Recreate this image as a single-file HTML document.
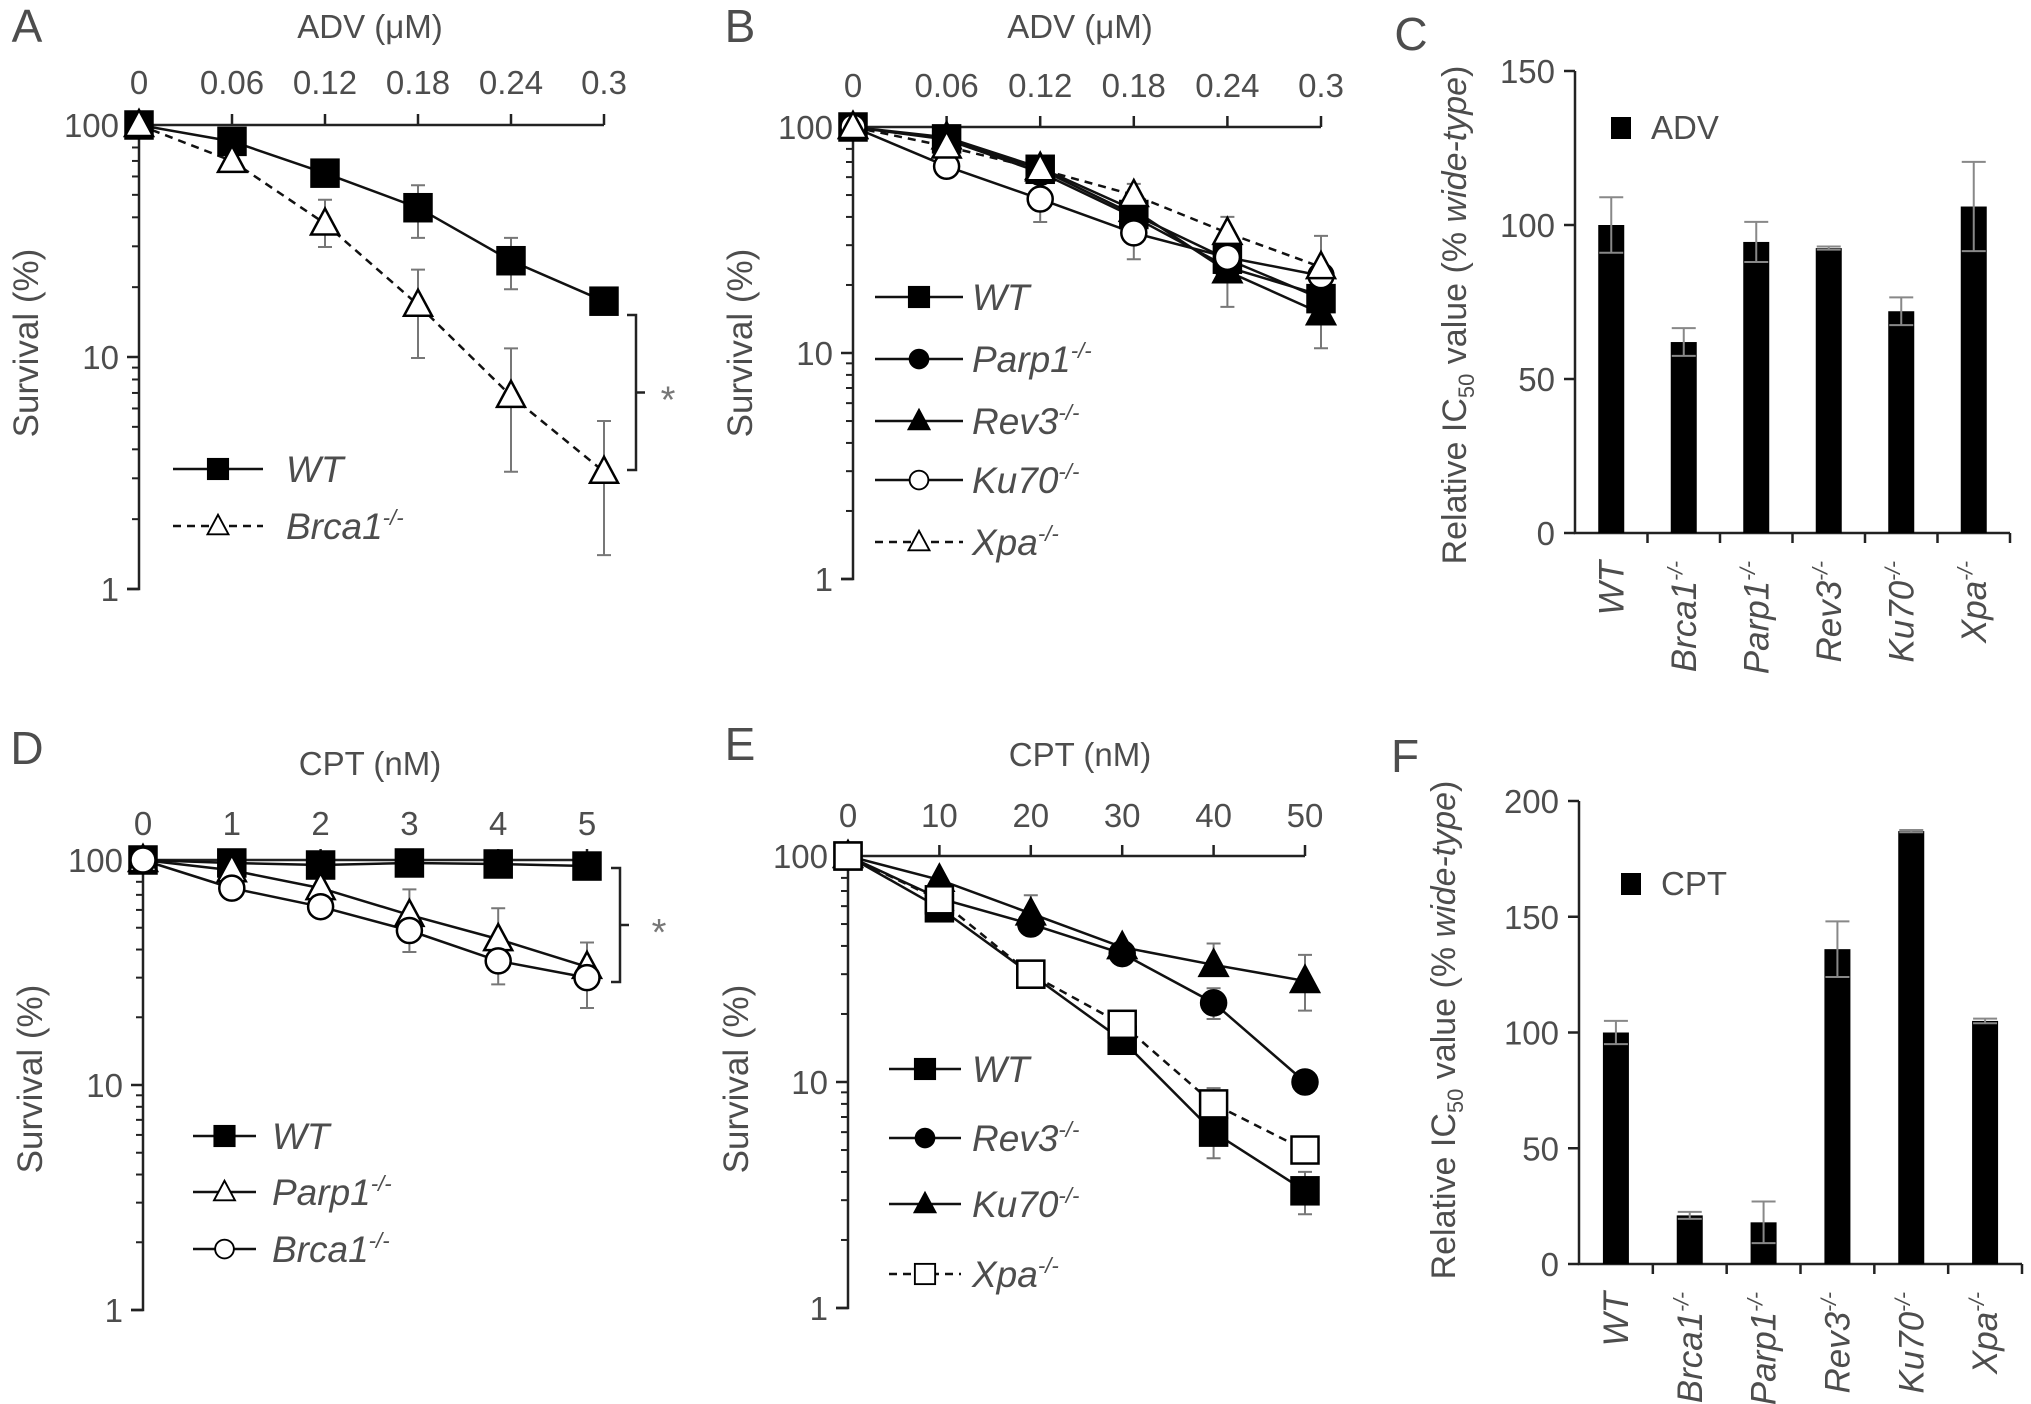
<!DOCTYPE html>
<html><head><meta charset="utf-8"><style>
html,body{margin:0;padding:0;background:#fff;}
svg{display:block;font-family:"Liberation Sans",Arial,sans-serif;}
</style></head><body>
<svg id="fig" width="2031" height="1404" viewBox="0 0 2031 1404" xmlns="http://www.w3.org/2000/svg"></svg>
<script>
// ---------- DATA ----------
const A_x=[0,0.06,0.12,0.18,0.24,0.3];
const A_ticks=["0","0.06","0.12","0.18","0.24","0.3"];
const A_wt=[100,85,62,44,26,17.4];
const A_wt_hi=[null,null,67,55,32.6,null];
const A_wt_lo=[null,null,56,32.6,19.6,null];
const A_brca1=[100,70,37.6,16.8,6.8,3.2];
const A_brca1_hi=[null,null,47.6,23.8,10.9,5.3];
const A_brca1_lo=[null,null,29.8,9.9,3.2,1.4];

const B_x=[0,0.06,0.12,0.18,0.24,0.3];
const B_ticks=["0","0.06","0.12","0.18","0.24","0.3"];
const B_wt=[100,88.6,65,41,26,17.4];
const B_parp1=[100,88,63,40,24,18];
const B_rev3=[100,90,66,43,23,15];
const B_ku70=[100,67,48,34,26.5,22];
const B_ku70_hi=[null,null,null,null,null,33];
const B_ku70_lo=[null,null,38,26,16,10.5];
const B_xpa=[100,82,65,50,34,24];
const B_xpa_hi=[null,null,null,56,40,null];

const C_cats=["WT","Brca1","Parp1","Rev3","Ku70","Xpa"];
const C_vals=[100,62,94.5,92.5,72,106];
const C_err=[9,4.5,6.5,0.5,4.5,14.5];
const C_ticks=[0,50,100,150];

const D_x=[0,1,2,3,4,5];
const D_ticks=["0","1","2","3","4","5"];
const D_wt=[100,97,95,97,96,94];
const D_wt_lo=[null,null,null,90,84,null];
const D_parp1=[100,90,75,57,44.5,33.5];
const D_parp1_hi=[null,null,null,74,61,43];
const D_brca1=[100,75,62,48.6,35.6,30];
const D_brca1_lo=[null,null,null,39,28,22];

const E_x=[0,10,20,30,40,50];
const E_ticks=["0","10","20","30","40","50"];
const E_wt=[100,59,30,15.3,6,3.3];
const E_wt_hi=[null,null,null,null,null,4.0];
const E_wt_lo=[null,null,null,null,4.6,2.6];
const E_rev3=[100,65,50,37,22.4,10];
const E_rev3_hi=[null,null,null,null,26,null];
const E_rev3_lo=[null,null,null,null,19,null];
const E_ku70=[100,78.5,55.7,39.5,33,28];
const E_ku70_hi=[null,null,67,null,41,36.5];
const E_ku70_lo=[null,null,null,null,null,20.7];
const E_xpa=[100,64,30,18,8,5];
const E_xpa_hi=[null,null,null,null,9.4,null];

const F_cats=["WT","Brca1","Parp1","Rev3","Ku70","Xpa"];
const F_vals=[100,21,18,136,187,105];
const F_err=[5,1.5,9,12,0.5,1];
const F_ticks=[0,50,100,150,200];

// ---------- HELPERS ----------
const NS="http://www.w3.org/2000/svg";
const svg=document.getElementById('fig');
const TXT="#4d4d4d";
function mk(tag,attrs,parent){const e=document.createElementNS(NS,tag);for(const k in attrs)e.setAttribute(k,attrs[k]);(parent||svg).appendChild(e);return e;}
function grp(name){const g=mk('g',{});return g;}
function label(g,x,y,str,size,anchor,extra){const t=mk('text',Object.assign({x:x,y:y,'font-size':size,fill:TXT,'text-anchor':anchor||'middle'},extra||{}),g);t.textContent=str;return t;}
function supLabel(g,x,y,main,sup,size,extra){
  const t=mk('text',Object.assign({x:x,y:y,'font-size':size,fill:TXT,'font-style':'italic'},extra||{}),g);
  const a=mk('tspan',{},t);a.textContent=main;
  if(sup){const b=mk('tspan',{dy:-size*0.38,'font-size':size*0.6},t);b.textContent=sup;}
  return t;}
function marker(g,type,fill,x,y){
  const f=fill?'#000':'#fff';let e;
  if(type==='sq'){e=mk('rect',{x:x-13.5,y:y-13.5,width:27,height:27,fill:f,stroke:'#000','stroke-width':2.5},g);}
  else if(type==='tri'){e=mk('polygon',{points:`${x},${y-15} ${x-14},${y+11} ${x+14},${y+11}`,fill:f,stroke:'#000','stroke-width':2.5},g);}
  else {e=mk('circle',{cx:x,cy:y,r:12.5,fill:f,stroke:'#000','stroke-width':2.5},g);}
  return e;}

function linePanel(p){
  const g=grp(p.name);
  const X=v=>p.x0+(v-p.xs[0])/(p.xs[p.xs.length-1]-p.xs[0])*(p.x1-p.x0);
  const Y=v=>p.y100+(2-Math.log10(v))*p.dec;
  const L=label(g,p.letterX,p.letterY,p.letter,46,'middle');
  
  
  const T=label(g,p.titleX,p.titleY,p.title,33,'middle');
  
  
  const ax=mk('path',{d:`M${p.x0},${p.y100}H${p.x1}`,stroke:'#222','stroke-width':2.5,fill:'none'},g);
  
  
  p.xs.forEach((v,i)=>{
    mk('line',{x1:X(v),x2:X(v),y1:p.y100,y2:p.y100-11,stroke:'#222','stroke-width':2.5},g);
    const t=label(g,X(v),p.tickY,p.ticks[i],33,'middle');
    
    
  });
  const ya=mk('path',{d:`M${p.x0},${Y(100)}V${Y(1)}H${p.x0-12}`,stroke:'#222','stroke-width':2.5,fill:'none'},g);
  
  
  [1,10,100].forEach(v=>{
    mk('line',{x1:p.x0-12,x2:p.x0,y1:Y(v),y2:Y(v),stroke:'#222','stroke-width':2.5},g);
    const t=label(g,p.x0-20,Y(v)+12,String(v),33,'end');
    
    
  });
  [1,10].forEach(d=>{for(let k=2;k<=9;k++){mk('line',{x1:p.x0-7,x2:p.x0,y1:Y(d*k),y2:Y(d*k),stroke:'#222','stroke-width':2},g);}});
  const yl=label(g,p.ylX,p.ylY,'Survival (%)',35,'middle',{transform:`rotate(-90 ${p.ylX} ${p.ylY})`});
  
  
  p.series.forEach(s=>{
    s.vals.forEach((v,i)=>{
      const hi=s.hi?s.hi[i]:null, lo=s.lo?s.lo[i]:null;
      [hi,lo].forEach(e=>{if(e==null)return;
        const eb=mk('path',{d:`M${X(p.xs[i])},${Y(v)}V${Y(e)}M${X(p.xs[i])-7},${Y(e)}h14`,stroke:'#777','stroke-width':2,fill:'none'},g);
        
        
      });
    });
  });
  p.series.forEach(s=>{
    const d=s.vals.map((v,i)=>(i?'L':'M')+X(p.xs[i])+','+Y(v)).join('');
    const pl=mk('path',{d:d,stroke:'#111','stroke-width':2.5,fill:'none','stroke-dasharray':s.dash?'8,6':'none'},g);
    
    
  });
  p.series.forEach(s=>{
    s.vals.forEach((v,i)=>{
      const m=marker(g,s.type,s.fill,X(p.xs[i]),Y(v));
      
      
    });
  });
  p.series.forEach((s,i)=>{
    const y=p.legY[i];
    const lg=grp('legend-entry-'+s.key);
    g.appendChild(lg);
    mk('line',{x1:p.legX0,x2:p.legX1,y1:y,y2:y,stroke:'#111','stroke-width':2.5,'stroke-dasharray':s.dash?'8,6':'none'},lg);
    const m=marker(lg,s.type,s.fill,(p.legX0+p.legX1)/2,y);
    m.setAttribute('transform',`translate(${(p.legX0+p.legX1)/2} ${y}) scale(0.75) translate(${-(p.legX0+p.legX1)/2} ${-y})`);
    supLabel(lg,p.legTX,y+13,s.label,s.sup,37);
  });
  if(p.bracket){const b=p.bracket;
    const br=mk('path',{d:`M${b.x-9},${b.y0}H${b.x}V${b.y1}H${b.x-9}M${b.x},${(b.y0+b.y1)/2}H${b.x+9}`,stroke:'#222','stroke-width':2.5,fill:'none'},g);
    
    
    const st=label(g,b.sx,(b.y0+b.y1)/2+20,'*',38,'middle',{fill:'#777'});
    
    
  }
}

function barPanel(p){
  const g=grp(p.name);
  const Y=v=>p.y0-v/p.ymax*(p.y0-p.ytop);
  const n=p.cats.length, cw=(p.xEnd-p.x0)/n;
  const CX=i=>p.x0+cw*(i+0.5);
  const L=label(g,p.letterX,p.letterY,p.letter,46,'middle');
  
  
  const ya=mk('path',{d:`M${p.x0},${p.ytop}V${p.y0}H${p.xEnd}`,stroke:'#222','stroke-width':2.5,fill:'none'},g);
  
  
  p.ticks.forEach(v=>{
    mk('line',{x1:p.x0-11,x2:p.x0,y1:Y(v),y2:Y(v),stroke:'#222','stroke-width':2.5},g);
    const t=label(g,p.x0-20,Y(v)+12,String(v),33,'end');
    
    
  });
  for(let i=1;i<=n;i++){mk('line',{x1:p.x0+cw*i,x2:p.x0+cw*i,y1:p.y0,y2:p.y0+10,stroke:'#222','stroke-width':2.5},g);}
  p.vals.forEach((v,i)=>{
    const r=mk('rect',{x:CX(i)-13,y:Y(v),width:26,height:p.y0-Y(v),fill:'#000'},g);
    
    
    const e=p.err[i];
    const eb=mk('path',{d:`M${CX(i)},${Y(v+e)}V${Y(v-e)}M${CX(i)-12},${Y(v+e)}h24M${CX(i)-12},${Y(v-e)}h24`,stroke:'#888','stroke-width':2,fill:'none'},g);
    
    
    const lx=CX(i)+12, ly=p.y0+28;
    const t=supLabel(g,lx,ly,p.cats[i],i?'-/-':null,35,{'text-anchor':'end',transform:`rotate(-90 ${lx} ${ly})`});
    
    
  });
  const ls=mk('rect',{x:p.legX,y:p.legY-10,width:20,height:22,fill:'#000'},g);
  
  
  const lt=label(g,p.legX+40,p.legY+12,p.legText,33,'start');
  
  
  const yt=mk('text',{x:p.ylX,y:p.ylY,'font-size':34,fill:TXT,'text-anchor':'middle',transform:`rotate(-90 ${p.ylX} ${p.ylY})`},g);
  
  
  const a=mk('tspan',{},yt);a.textContent='Relative IC';
  const b=mk('tspan',{dy:8,'font-size':22},yt);b.textContent='50';
  const c=mk('tspan',{dy:-8},yt);c.textContent=' value (% ';
  const d=mk('tspan',{'font-style':'italic'},yt);d.textContent='wide-type';
  const e2=mk('tspan',{},yt);e2.textContent=')';
}

// ---------- PANELS ----------
linePanel({name:'panel-a',letter:'A',letterX:27,letterY:42,title:'ADV (\u03bcM)',titleX:370,titleY:38,
  xs:A_x,ticks:A_ticks,x0:139,x1:604,y100:125,dec:232,tickY:94,ylX:38,ylY:343,
  legX0:173,legX1:263,legTX:286,legY:[469,526],
  bracket:{x:636,y0:315,y1:470,sx:668},
  series:[{key:'wt',vals:A_wt,hi:A_wt_hi,lo:A_wt_lo,type:'sq',fill:true,label:'WT'},
          {key:'brca1',vals:A_brca1,hi:A_brca1_hi,lo:A_brca1_lo,type:'tri',fill:false,dash:true,label:'Brca1',sup:'-/-'}]});

linePanel({name:'panel-b',letter:'B',letterX:740,letterY:42,title:'ADV (\u03bcM)',titleX:1080,titleY:38,
  xs:B_x,ticks:B_ticks,x0:853,x1:1321,y100:127,dec:226,tickY:97,ylX:752,ylY:343,
  legX0:875,legX1:963,legTX:972,legY:[297,359,421,480,542],
  series:[{key:'wt',vals:B_wt,type:'sq',fill:true,label:'WT'},
          {key:'parp1',vals:B_parp1,type:'circ',fill:true,label:'Parp1',sup:'-/-'},
          {key:'rev3',vals:B_rev3,type:'tri',fill:true,label:'Rev3',sup:'-/-'},
          {key:'ku70',vals:B_ku70,hi:B_ku70_hi,lo:B_ku70_lo,type:'circ',fill:false,label:'Ku70',sup:'-/-'},
          {key:'xpa',vals:B_xpa,hi:B_xpa_hi,type:'tri',fill:false,dash:true,label:'Xpa',sup:'-/-'}]});

barPanel({name:'panel-c',letter:'C',letterX:1411,letterY:50,cats:C_cats,vals:C_vals,err:C_err,ticks:C_ticks,
  ymax:150,x0:1575,xEnd:2010,y0:533,ytop:71,legX:1611,legY:127,legText:'ADV',ylX:1466,ylY:315});

linePanel({name:'panel-d',letter:'D',letterX:27,letterY:764,title:'CPT (nM)',titleX:370,titleY:775,
  xs:D_x,ticks:D_ticks,x0:143,x1:587,y100:860,dec:225,tickY:835,ylX:42,ylY:1079,
  legX0:193,legX1:256,legTX:272,legY:[1136,1192,1249],
  bracket:{x:620,y0:868,y1:982,sx:659},
  series:[{key:'wt',vals:D_wt,lo:D_wt_lo,type:'sq',fill:true,label:'WT'},
          {key:'parp1',vals:D_parp1,hi:D_parp1_hi,type:'tri',fill:false,label:'Parp1',sup:'-/-'},
          {key:'brca1',vals:D_brca1,lo:D_brca1_lo,type:'circ',fill:false,label:'Brca1',sup:'-/-'}]});

linePanel({name:'panel-e',letter:'E',letterX:740,letterY:760,title:'CPT (nM)',titleX:1080,titleY:766,
  xs:E_x,ticks:E_ticks,x0:848,x1:1305,y100:856,dec:226,tickY:827,ylX:748,ylY:1079,
  legX0:889,legX1:961,legTX:972,legY:[1069,1138,1204,1274],
  series:[{key:'wt',vals:E_wt,hi:E_wt_hi,lo:E_wt_lo,type:'sq',fill:true,label:'WT'},
          {key:'rev3',vals:E_rev3,hi:E_rev3_hi,lo:E_rev3_lo,type:'circ',fill:true,label:'Rev3',sup:'-/-'},
          {key:'ku70',vals:E_ku70,hi:E_ku70_hi,lo:E_ku70_lo,type:'tri',fill:true,label:'Ku70',sup:'-/-'},
          {key:'xpa',vals:E_xpa,hi:E_xpa_hi,type:'sq',fill:false,dash:true,label:'Xpa',sup:'-/-'}]});

barPanel({name:'panel-f',letter:'F',letterX:1405,letterY:772,cats:F_cats,vals:F_vals,err:F_err,ticks:F_ticks,
  ymax:200,x0:1579,xEnd:2022,y0:1264,ytop:801,legX:1621,legY:883,legText:'CPT',ylX:1455,ylY:1030});
</script>
</body></html>
